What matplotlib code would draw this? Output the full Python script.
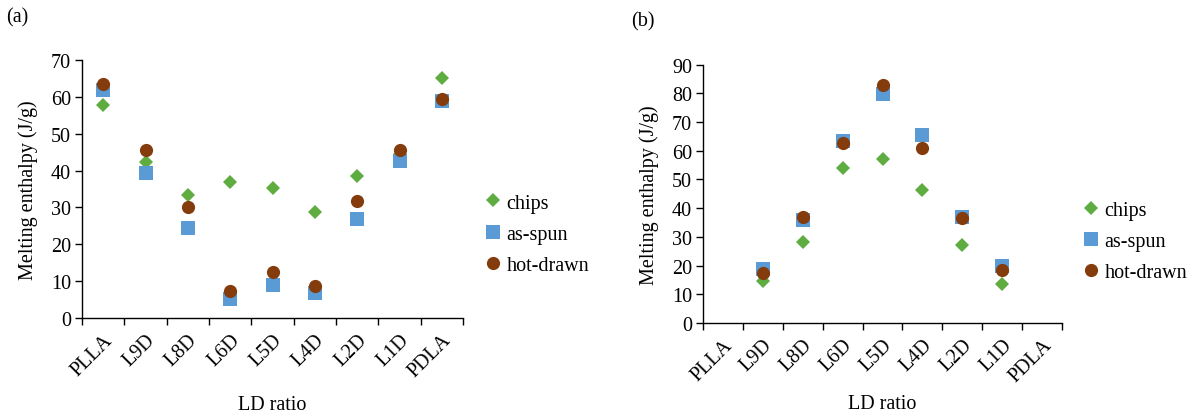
import matplotlib
matplotlib.use('Agg')
import matplotlib.pyplot as plt
import numpy as np

plt.rcParams['font.family'] = ['Liberation Serif', 'DejaVu Serif']
plt.rcParams['font.size'] = 14.5

ratios = ['PLLA', 'L9D', 'L8D', 'L6D', 'L5D', 'L4D', 'L2D', 'L1D', 'PDLA']

# panel (a)
chips_a = [57.9, 42.3, 33.5, 36.9, 35.2, 28.8, 38.5, 44.5, 65.0]
spun_a = [62.0, 39.3, 24.5, 5.1, 8.9, 6.8, 26.9, 42.6, 59.0]
drawn_a = [63.4, 45.6, 30.0, 7.2, 12.4, 8.6, 31.8, 45.6, 59.3]

# panel (b), no values for the pure polymers
nan = np.nan
chips_b = [nan, 14.5, 28.1, 54.0, 57.1, 46.3, 27.2, 13.5, nan]
spun_b = [nan, 18.8, 35.9, 63.3, 79.8, 65.5, 37.0, 20.0, nan]
drawn_b = [nan, 17.4, 37.0, 62.8, 82.9, 61.1, 36.5, 18.4, nan]

GREEN = '#5fad41'
BLUE = '#5b9bd5'
BROWN = '#843c0c'


def draw_panel(ax, chips, spun, drawn, ymax, step, letter, leg_xy, xpad):
    x = np.arange(len(ratios))
    ax.plot(x, chips, 'D', color=GREEN, ms=7.2, mew=0, label='chips')
    ax.plot(x, spun, 's', color=BLUE, ms=10, mew=0, label='as-spun')
    ax.plot(x, drawn, 'o', color=BROWN, ms=9.5, mew=0, label='hot-drawn')

    ax.set_xlim(-0.5, len(ratios) - 0.5)
    ax.set_ylim(0, ymax)
    ax.set_yticks(np.arange(0, ymax + 1, step))
    ax.set_xticks(x)
    ax.set_xticklabels(ratios, rotation=45, ha='right', rotation_mode='anchor')
    ax.set_xticks(np.arange(-0.5, len(ratios)), minor=True)
    ax.tick_params(axis='x', which='major', length=0, pad=9)
    ax.tick_params(axis='x', which='minor', length=5, width=1, direction='out')
    ax.tick_params(axis='y', length=5, width=1, direction='out', pad=3)

    for s in ['top', 'right']:
        ax.spines[s].set_visible(False)
    for s in ['left', 'bottom']:
        ax.spines[s].set_linewidth(1)

    ax.set_ylabel('Melting enthalpy (J/g)', labelpad=9)
    ax.set_xlabel('LD ratio', labelpad=xpad)
    ax.text(-0.2, 1.15, letter, transform=ax.transAxes, fontsize=14.5)

    ax.legend(loc='center left', bbox_to_anchor=leg_xy, frameon=False,
              handlelength=0.7, handletextpad=0.3, labelspacing=0.6,
              borderaxespad=0)


fig = plt.figure(figsize=(11.87, 4.14), dpi=100)
ax_a = fig.add_axes([0.0691, 0.2295, 0.321, 0.623])
ax_b = fig.add_axes([0.5923, 0.2174, 0.3024, 0.624])

draw_panel(ax_a, chips_a, spun_a, drawn_a, 70, 10, '(a)', (1.04, 0.325), 10)
draw_panel(ax_b, chips_b, spun_b, drawn_b, 90, 10, '(b)', (1.04, 0.315), 6)

fig.savefig('out.png', dpi=100)
